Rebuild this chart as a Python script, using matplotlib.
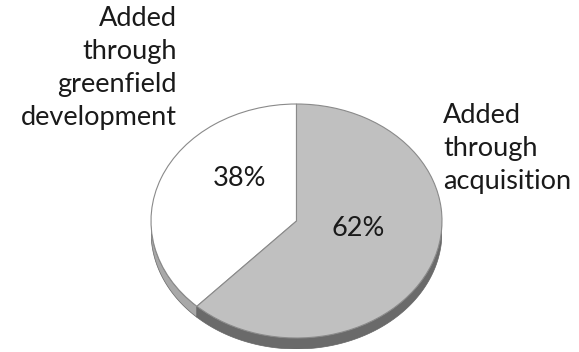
import numpy as np
import matplotlib.pyplot as plt

labels = ["Added\nthrough\ngreenfield\ndevelopment", "Added\nthrough\nacquisition"]
shares = [38, 62]
top_colors = ["#ffffff", "#c0c0c0"]
side_colors = ["#a8a8a8", "#6a6a6a"]

plt.rcParams['font.family'] = ['Lato', 'DejaVu Sans']

W, H = 579, 352
fig = plt.figure(figsize=(W / 100, H / 100), dpi=100)

# ellipse box in pixels
x0, x1 = 151, 442
y0, y1 = 104, 338
depth_px = 11
d = depth_px / ((y1 - y0) / 2)

ax = fig.add_axes([x0 / W, 1 - (y1 + depth_px) / H, (x1 - x0) / W, (y1 - y0 + depth_px) / H])
wedges, _ = ax.pie(shares, colors=top_colors, startangle=90, counterclock=True,
                   wedgeprops=dict(edgecolor="#8a8a8a", linewidth=0.8))
ax.set_aspect('auto')
ax.set_xlim(-1, 1)
ax.set_ylim(-1 - d, 1)
ax.axis('off')

# side band of the tilted pie
start = 90
for v, c in zip(shares, side_colors):
    end = start + v / 100 * 360
    a = max(start, 180)
    b = min(end, 360)
    if b > a:
        t = np.radians(np.linspace(a, b, 100))
        xs = np.concatenate([np.cos(t), np.cos(t[::-1])])
        ys = np.concatenate([np.sin(t), np.sin(t[::-1]) - d])
        ax.fill(xs, ys, color=c, zorder=0, lw=0.5, ec="#666666")
    start = end

fs = 19.5
fig.text(177 / W, 1 - 6 / H, labels[0], ha="right", va="top", fontsize=fs,
         color="#1a1a1a", linespacing=1.4)
fig.text(443 / W, 1 - 103 / H, labels[1], ha="left", va="top", fontsize=fs,
         color="#1a1a1a", linespacing=1.4)
fig.text(240 / W, 1 - 178 / H, f"{shares[0]}%", ha="center", va="center",
         fontsize=fs, color="#1a1a1a")
fig.text(358 / W, 1 - 229 / H, f"{shares[1]}%", ha="center", va="center",
         fontsize=fs, color="#1a1a1a")

fig.savefig("out.png", dpi=100)
